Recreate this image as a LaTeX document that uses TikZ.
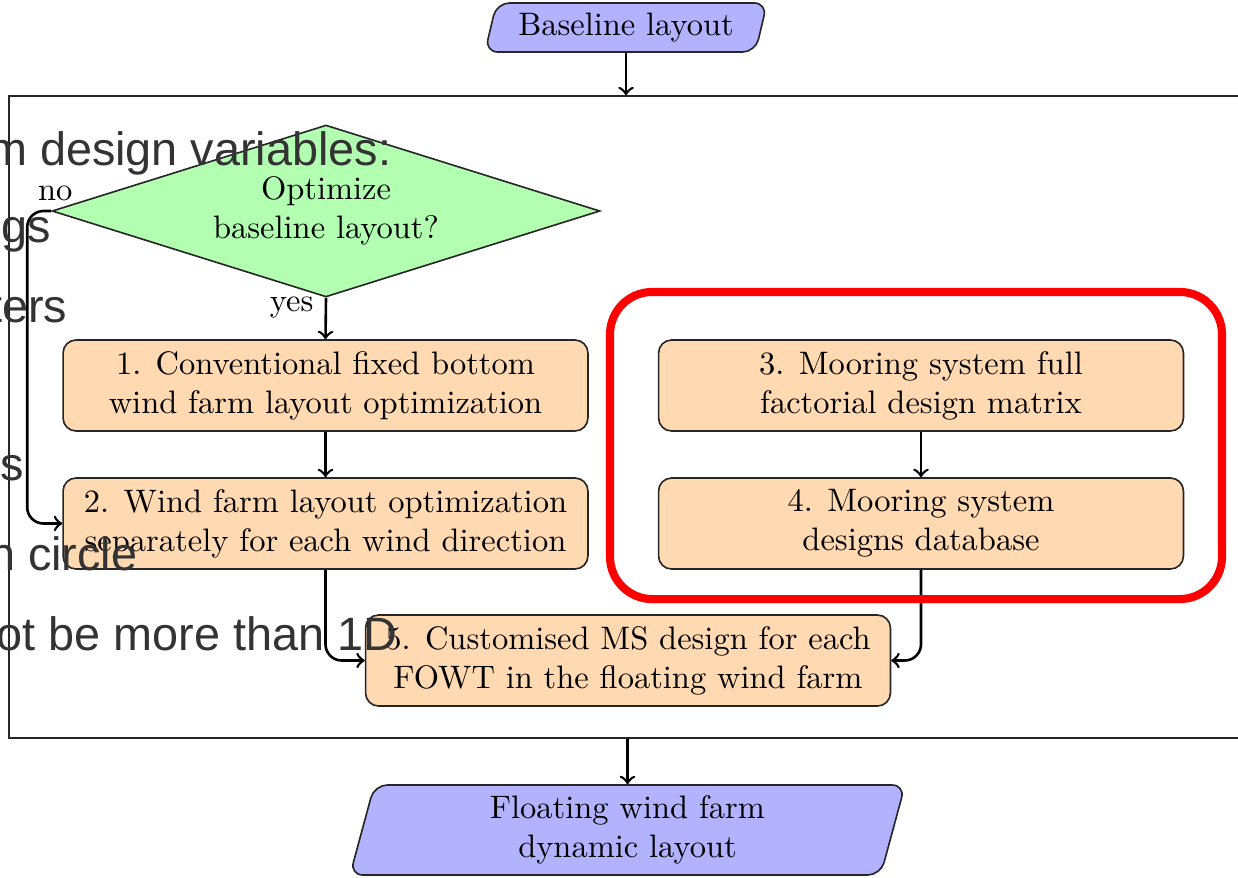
\documentclass[tikz,border=0pt]{standalone}
\usepackage{fontspec}
\newfontfamily\notefont{Liberation Sans}
\usetikzlibrary{shapes.geometric,calc}

\tikzset{
  ioshape/.style={trapezium, trapezium left angle=72, trapezium right angle=108,
    trapezium stretches body, draw=black!85, line width=0.5pt, fill=blue!30,
    rounded corners=4pt, align=center, inner ysep=1pt},
  stepbox/.style={rectangle, draw=black!85, line width=0.5pt, fill=orange!30,
    rounded corners=4pt, minimum width=161.5pt, minimum height=28pt,
    align=center, inner sep=2pt},
  decide/.style={diamond, draw=black!85, line width=0.5pt, fill=green!30, aspect=3.19,
    minimum width=168.6pt, minimum height=52.9pt, align=center, inner sep=1pt},
  flow/.style={->, line width=0.8pt, rounded corners=5pt},
  tag/.style={inner sep=0pt},
  note/.style={font=\notefont\fontsize{14.4}{17}\selectfont, text=black!80,
    inner sep=0pt, anchor=base east},
}

\begin{document}
\begin{tikzpicture}[x=0.3077pt, y=-0.3077pt]
\useasboundingbox (0,0) rectangle (1238,877);
\clip (0,0) rectangle (1238,877);

% outer frame of the optimisation stage
\node[draw=black!85, line width=0.5pt, minimum width=381.9pt, minimum height=197.5pt,
  inner sep=0pt] (frame) at (629.5,417) {};

% input and output
\node[ioshape, minimum width=86.8pt, minimum height=15.1pt] (start) at (626,27.5) {Baseline layout};
\node[ioshape, minimum width=170.8pt, minimum height=27.7pt] (out) at (627.5,830)
  {Floating wind farm\\dynamic layout};

% decision and process steps
\node[decide] (dec) at (326,211) {Optimize\\baseline layout?};
\node[stepbox] (b1) at (325.5,385.5) {1. Conventional fixed bottom\\wind farm layout optimization};
\node[stepbox] (b2) at (325.5,523.5) {2. Wind farm layout optimization\\separately for each wind direction};
\node[stepbox] (b3) at (921,385.5) {3. Mooring system full\\factorial design matrix};
\node[stepbox] (b4) at (921,523.5) {4. Mooring system\\designs database};
\node[stepbox] (b5) at (628,660.5) {5. Customised MS design for each\\FOWT in the floating wind farm};

% connectors
\draw[flow] (start.south) -- (start.south |- frame.north);
\draw[flow] (dec.south) -- (b1.north);
\node[tag, anchor=base east] (yes) at ($(dec.south)+(-12,14)$) {yes};
\draw[flow] (dec.west) -- ++(-24,0) |- (b2.west);
\node[tag, anchor=base] (no) at ($(dec.west)+(4,-11)$) {no};
\draw[flow] (b1) -- (b2);
\draw[flow] (b3) -- (b4);
\draw[flow] (b2.south) |- (b5.west);
\draw[flow] (b4.south) |- (b5.east);
\draw[flow] (out.north |- frame.south) -- (out.north);

% highlight around the mooring steps
\node[draw=red, line width=2.5pt, rounded corners=13pt, minimum width=188.3pt,
  minimum height=94.5pt, inner sep=0pt] (hl) at (916,445.5) {};

% notes lying over the chart
\node[note] (n1) at (392,165) {m design variables:};
\node[note] (n2) at (52,242) {gs};
\node[note] (n3) at (68,322) {ters};
\node[note] (n4) at (25,480) {s};
\node[note] (n5) at (138,570) {n circle};
\node[note] (n6) at (398,650) {ot be more than 1D};
\end{tikzpicture}
\end{document}
